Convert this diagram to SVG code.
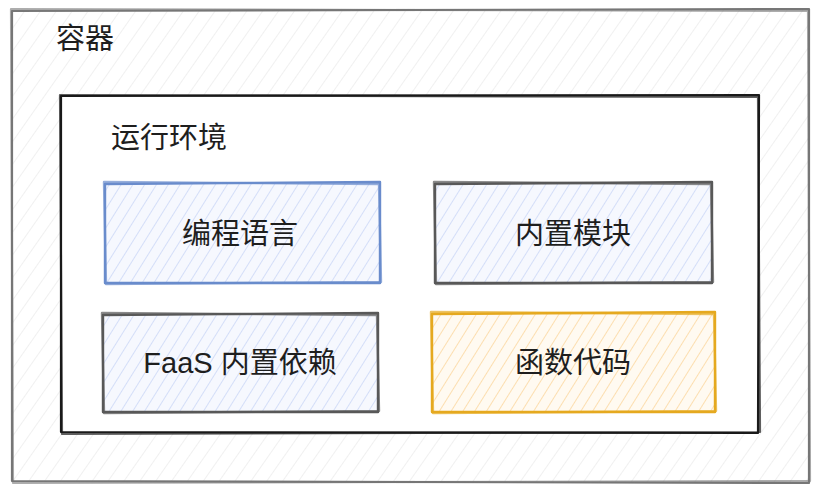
<svg xmlns="http://www.w3.org/2000/svg" width="820" height="493" viewBox="0 0 820 493">
<defs>
<pattern id="hGray" patternUnits="userSpaceOnUse" width="13" height="13" patternTransform="rotate(35)">
<line x1="0" y1="0" x2="0" y2="13" stroke="#e6e6e6" stroke-width="1.2"/>
</pattern>
<pattern id="hBlue" patternUnits="userSpaceOnUse" width="10" height="10" patternTransform="rotate(32)">
<rect x="0" y="0" width="10" height="10" fill="#f6f8fe"/>
<line x1="0" y1="0" x2="0" y2="10" stroke="#c6d3f6" stroke-width="1.4"/>
</pattern>
<pattern id="hOrange" patternUnits="userSpaceOnUse" width="10" height="10" patternTransform="rotate(32)">
<rect x="0" y="0" width="10" height="10" fill="#fffaf1"/>
<line x1="0" y1="0" x2="0" y2="10" stroke="#fbd59a" stroke-width="1.5"/>
</pattern>
</defs>
<style>
.s{fill:none;stroke-linecap:round;stroke-linejoin:round}
.outer{stroke:#777777;stroke-width:2.2}
.inner{stroke:#1a1a1a;stroke-width:2.2}
.blue{stroke:#6a8ccc;stroke-width:2.4}
.gray{stroke:#595959;stroke-width:2.4}
.orange{stroke:#e5a920;stroke-width:2.4}
text{font-family:"Liberation Sans","Noto Sans CJK SC",sans-serif;fill:#1e1e1e}
.t{font-size:29px}
.c{font-size:29px;text-anchor:middle;dominant-baseline:central}
</style>
<g id="container">
<rect x="12" y="10" width="797" height="472" fill="#ffffff"/>
<rect x="12" y="10" width="797" height="472" fill="url(#hGray)"/>
<path class="s outer" d="M12 11 L809 9 L809 483 L12 481 Z"/>
<path class="s outer" d="M11 9 L808 11 L810 481 L13 483 Z" stroke-opacity="0.6"/>
<text class="t" x="56" y="49">容器</text>
</g>
<g id="runtime">
<rect x="61" y="95" width="698" height="338" fill="#ffffff"/>
<path class="s inner" d="M61 96 L759 95 L758 433 L61 432 Z"/>
<path class="s inner" d="M60 95 L758 97 L760 432 L62 434 Z" stroke-opacity="0.7"/>
<text class="t" x="111" y="148">运行环境</text>
</g>
<g id="lang">
<rect x="105" y="183" width="275" height="100" fill="url(#hBlue)"/>
<path class="s blue" d="M105 184 L380 182 L380 283 L105 283 Z"/>
<path class="s blue" d="M104 182 L379 184 L381 282 L106 284 Z" stroke-opacity="0.7"/>
<text class="c" x="240" y="234">编程语言</text>
</g>
<g id="builtin">
<rect x="435" y="183" width="277" height="100" fill="url(#hBlue)"/>
<path class="s gray" d="M435 184 L712 182 L712 283 L435 283 Z"/>
<path class="s gray" d="M434 182 L711 184 L713 282 L436 284 Z" stroke-opacity="0.7"/>
<text class="c" x="573" y="234">内置模块</text>
</g>
<g id="faas">
<rect x="103" y="314" width="275" height="98" fill="url(#hBlue)"/>
<path class="s gray" d="M103 315 L378 313 L378 412 L103 412 Z"/>
<path class="s gray" d="M102 313 L377 315 L379 411 L104 413 Z" stroke-opacity="0.7"/>
<text class="c" x="240" y="363">FaaS 内置依赖</text>
</g>
<g id="code">
<rect x="432" y="313" width="283" height="99" fill="url(#hOrange)"/>
<path class="s orange" d="M432 314 L715 312 L715 412 L432 412 Z"/>
<path class="s orange" d="M431 312 L714 314 L716 411 L433 413 Z" stroke-opacity="0.7"/>
<text class="c" x="573" y="363">函数代码</text>
</g>
</svg>
